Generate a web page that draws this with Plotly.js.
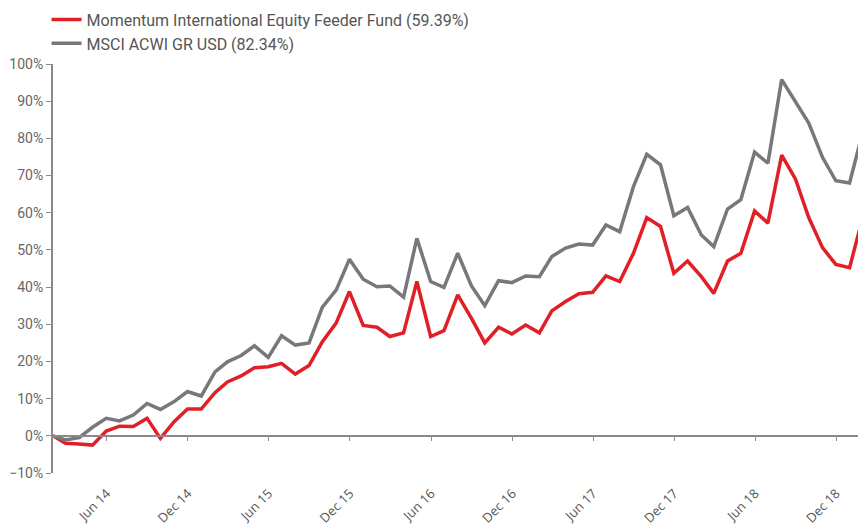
<!DOCTYPE html>
<html>
<head>
<meta charset="utf-8">
<script src="https://cdn.plot.ly/plotly-3.0.1.min.js"></script>
<style>
  html, body { margin: 0; padding: 0; background: #fff; }
  #chart { width: 858px; height: 526px; }
</style>
</head>
<body>
<div id="chart"></div>
<script>
// Month-end dates
const dates = [
  '2014-01-31','2014-02-28','2014-03-31','2014-04-30','2014-05-31','2014-06-30','2014-07-31','2014-08-31','2014-09-30','2014-10-31','2014-11-30','2014-12-31',
  '2015-01-31','2015-02-28','2015-03-31','2015-04-30','2015-05-31','2015-06-30','2015-07-31','2015-08-31','2015-09-30','2015-10-31','2015-11-30','2015-12-31',
  '2016-01-31','2016-02-29','2016-03-31','2016-04-30','2016-05-31','2016-06-30','2016-07-31','2016-08-31','2016-09-30','2016-10-31','2016-11-30','2016-12-31',
  '2017-01-31','2017-02-28','2017-03-31','2017-04-30','2017-05-31','2017-06-30','2017-07-31','2017-08-31','2017-09-30','2017-10-31','2017-11-30','2017-12-31',
  '2018-01-31','2018-02-28','2018-03-31','2018-04-30','2018-05-31','2018-06-30','2018-07-31','2018-08-31','2018-09-30','2018-10-31','2018-11-30','2018-12-31',
  '2019-01-31'
];

// Cumulative returns (%)
const fundName = 'Momentum International Equity Feeder Fund (59.39%)';
const fundValues = [
  0, -2.0, -2.2, -2.5, 1.3, 2.6, 2.5, 4.7, -0.7, 3.8, 7.2, 7.2,
  11.6, 14.5, 16.1, 18.3, 18.6, 19.5, 16.6, 18.9, 25.3, 30.3, 38.8, 29.7,
  29.2, 26.7, 27.7, 41.5, 26.7, 28.3, 37.9, 31.6, 25.0, 29.2, 27.4, 29.8,
  27.7, 33.6, 36.1, 38.2, 38.6, 43.0, 41.5, 49.1, 58.7, 56.3, 43.7, 47.0,
  42.8, 38.3, 47.0, 49.1, 60.5, 57.2, 75.5, 69.1, 58.7, 50.6, 46.1, 45.2,
  59.39
];

const indexName = 'MSCI ACWI GR USD (82.34%)';
const indexValues = [
  0, -1.1, -0.5, 2.3, 4.7, 4.0, 5.6, 8.7, 7.1, 9.2, 11.9, 10.7,
  17.2, 19.9, 21.6, 24.2, 21.1, 26.9, 24.4, 25.0, 34.6, 39.2, 47.5, 42.1,
  40.1, 40.3, 37.3, 53.1, 41.5, 39.9, 49.1, 40.3, 35.0, 41.7, 41.2, 43.0,
  42.8, 48.2, 50.5, 51.6, 51.3, 56.7, 54.9, 67.0, 75.7, 72.9, 59.2, 61.4,
  54.0, 50.9, 61.0, 63.5, 76.3, 73.3, 95.8, 89.9, 84.1, 74.9, 68.6, 68.0,
  82.34
];

const xRange = ['2014-01-31', '2019-01-19'];
const yRange = [-10, 100];

const traces = [
  {
    x: dates, y: fundValues, name: fundName, type: 'scatter', mode: 'lines',
    line: { color: '#e01f26', width: 3.5 }, legendgroup: 'a'
  },
  {
    x: dates, y: indexValues, name: indexName, type: 'scatter', mode: 'lines',
    line: { color: '#77787b', width: 3.5 }, legendgroup: 'b'
  }
];

const layout = {
  width: 858, height: 526,
  margin: { l: 53, r: 0, t: 64, b: 53 },
  paper_bgcolor: '#fff', plot_bgcolor: '#fff',
  font: { family: 'Roboto, "Open Sans", sans-serif', color: '#666', size: 14 },
  showlegend: true,
  legend: {
    x: -0.008, xanchor: 'left', y: 1.15, yanchor: 'top',
    orientation: 'v', traceorder: 'normal', tracegroupgap: 7,
    font: { family: 'Roboto, sans-serif', size: 16, color: '#555' },
    bgcolor: 'rgba(0,0,0,0)'
  },
  xaxis: {
    type: 'date', range: xRange,
    anchor: 'free', position: 10 / 110,
    showline: true, linecolor: '#8a8a8a', linewidth: 2,
    ticks: 'outside', ticklen: 4, tickcolor: '#8a8a8a', tickwidth: 1,
    tick0: '2014-06-01', dtick: 'M6', tickformat: '%b %y',
    tickangle: -45, ticklabelstandoff: 40,
    tickfont: { family: '"Open Sans", Roboto, sans-serif', size: 13, color: '#555' },
    showgrid: false, zeroline: false, fixedrange: true
  },
  yaxis: {
    range: yRange, dtick: 10, ticksuffix: '%',
    showline: true, linecolor: '#8a8a8a', linewidth: 2,
    ticks: 'outside', ticklen: 5, tickcolor: '#8a8a8a', tickwidth: 1,
    tickfont: { family: 'Roboto, sans-serif', size: 14, color: '#666' },
    showgrid: false, zeroline: false, fixedrange: true
  }
};

Plotly.newPlot('chart', traces, layout, { displayModeBar: false, staticPlot: true });
</script>
</body>
</html>
